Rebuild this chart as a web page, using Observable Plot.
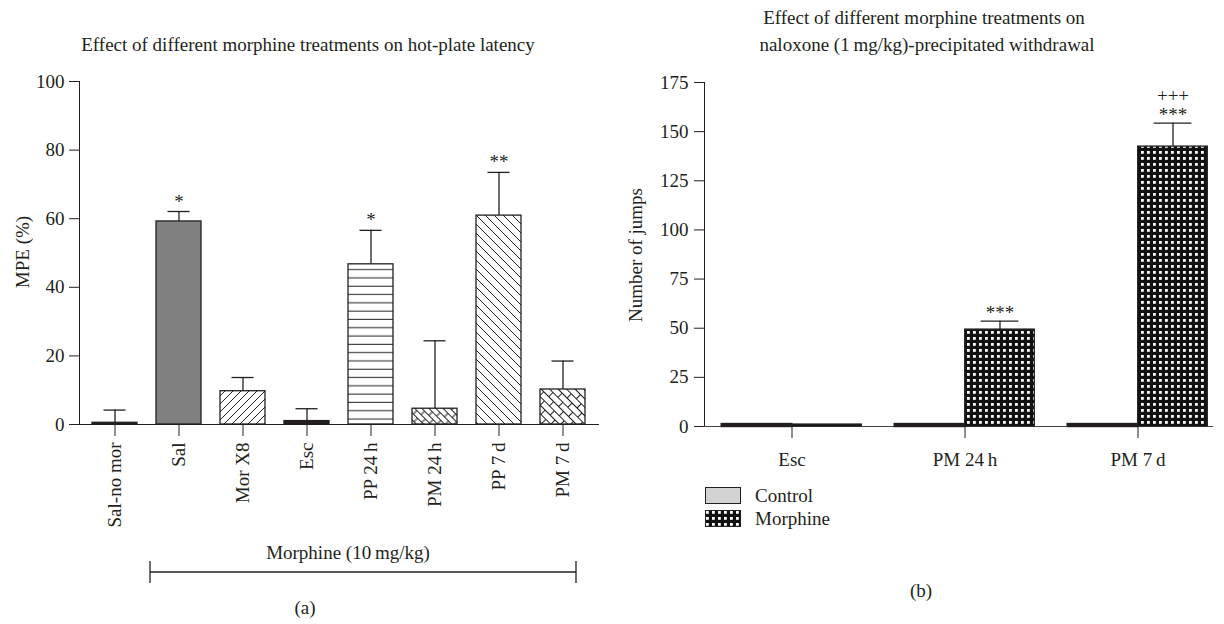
<!DOCTYPE html>
<html><head><meta charset="utf-8">
<script src="https://cdn.jsdelivr.net/npm/d3@7"></script>
<script src="https://cdn.jsdelivr.net/npm/@observablehq/plot@0.6"></script>
<style>
body{margin:0;background:#fff;}
#root{position:relative;width:1224px;height:624px;font-family:"Liberation Serif",serif;color:#231f20;overflow:hidden;background:#fff}
.t{position:absolute;white-space:nowrap;font-size:19px;transform:translate(-50%,-50%);line-height:1}
.l{position:absolute;white-space:nowrap;font-size:19px;transform:translate(0,-50%);line-height:1}
.r{position:absolute;white-space:nowrap;font-size:19px;transform:translate(-50%,-50%) rotate(-90deg);line-height:1}
.p{position:absolute;top:0}
</style></head><body>
<svg width="0" height="0" style="position:absolute">
<defs>
<pattern id="pDiagR" patternUnits="userSpaceOnUse" width="8" height="8"><rect width="8" height="8" fill="#fff"/><path d="M-2,2 L2,-2 M0,8 L8,0 M6,10 L10,6" stroke="#231f20" stroke-width="1"/></pattern>
<pattern id="pDiagL" patternUnits="userSpaceOnUse" width="9" height="9"><rect width="9" height="9" fill="#fff"/><path d="M-2,7 L2,11 M0,0 L9,9 M7,-2 L11,2" stroke="#231f20" stroke-width="1"/></pattern>
<pattern id="pHoriz" patternUnits="userSpaceOnUse" width="8" height="8.3"><rect width="8" height="8.3" fill="#fff"/><path d="M0,4 H8" stroke="#231f20" stroke-width="1"/></pattern>
<pattern id="pBrickS" patternUnits="userSpaceOnUse" width="12" height="10" patternTransform="rotate(45)"><rect width="12" height="10" fill="#fff"/><path d="M0,0.5 H12 M0,5.5 H12 M3,0.5 V5.5 M9,5.5 V10.5" stroke="#231f20" stroke-width="1"/></pattern>
<pattern id="pBrickL" patternUnits="userSpaceOnUse" width="14" height="12" patternTransform="rotate(45)"><rect width="14" height="12" fill="#fff"/><path d="M0,0.5 H14 M0,6.5 H14 M3.5,0.5 V6.5 M10.5,6.5 V12.5" stroke="#231f20" stroke-width="1"/></pattern>
<pattern id="pCheck" patternUnits="userSpaceOnUse" width="6" height="6"><rect width="6" height="6" fill="#111"/><rect x="1" y="1" width="2.8" height="2.8" fill="#fff"/></pattern>
</defs></svg>
<div id="root">
  <div class="t" style="left:308px;top:44px">Effect of different morphine treatments on hot-plate latency</div>
  <div class="r" style="left:22px;top:252px">MPE (%)</div>
  <div class="t" style="left:348px;top:552px">Morphine (10&#8201;mg/kg)</div>
  <div class="t" style="left:305px;top:607px">(a)</div>
  <div class="t" style="left:924px;top:17px">Effect of different morphine treatments on</div>
  <div class="t" style="left:927px;top:44px">naloxone (1&#8201;mg/kg)-precipitated withdrawal</div>
  <div class="r" style="left:635px;top:255px">Number of jumps</div>
  <div style="position:absolute;left:705px;top:487px;width:36px;height:17px"><svg width="36" height="17"><rect x="0.5" y="0.5" width="35" height="16" fill="#d3d3d3" stroke="#231f20"/></svg></div>
  <div class="l" style="left:755px;top:495px">Control</div>
  <div style="position:absolute;left:705px;top:510px;width:36px;height:17px"><svg width="36" height="17"><rect x="0.5" y="0.5" width="35" height="16" fill="url(#pCheck)" stroke="#231f20"/></svg></div>
  <div class="l" style="left:755px;top:518px">Morphine</div>
  <div class="t" style="left:921px;top:590px">(b)</div>
</div>
<script>
// ---- Panel (a): hot-plate latency ----
const treatments = ["Sal-no mor", "Sal", "Mor X8", "Esc", "PP 24\u2009h", "PM 24\u2009h", "PP 7\u2009d", "PM 7\u2009d"];
const mpeMean = [0.5, 59.2, 9.7, 1.0, 46.7, 4.6, 60.9, 10.2];
const mpeSem = [3.7, 2.9, 4.0, 3.6, 9.9, 19.8, 12.6, 8.3];
const mpeStars = ["", "*", "", "", "*", "", "**", ""];
const mpeTicks = [0, 20, 40, 60, 80, 100];

// ---- Panel (b): naloxone-precipitated withdrawal ----
const groups = ["Esc", "PM 24\u2009h", "PM 7\u2009d"];
const controlJumps = [1, 1, 1];
const morphineJumps = [1, 49.3, 142.4];
const morphineSem = [0, 4.3, 11.9];
const jumpStars = ["", "***", "***"];
const jumpPlus = ["", "", "+++"];
const jumpTicks = [0, 25, 50, 75, 100, 125, 150, 175];

const ink = "#231f20";
const fillsA = ["#231f20", "#808080", "url(#pDiagR)", "#231f20", "url(#pHoriz)", "url(#pBrickS)", "url(#pDiagL)", "url(#pBrickL)"];

const dataA = treatments.map((t, i) => ({t, v: mpeMean[i], e: mpeSem[i], s: mpeStars[i]}));
const styleCommon = {fontFamily: "'Liberation Serif', serif", fontSize: "19px", color: ink, background: "transparent", overflow: "visible"};

const plotA = Plot.plot({
  width: 612, height: 624,
  marginLeft: 79, marginRight: 14, marginTop: 81, marginBottom: 200,
  style: styleCommon,
  x: {domain: treatments, paddingInner: 0.29, paddingOuter: 0.145, tickRotate: -90, tickSize: 12, tickPadding: 6, label: null, line: true},
  y: {domain: [0, 100], ticks: mpeTicks, tickSize: 10, tickPadding: 5, label: null, line: true},
  color: {domain: treatments, range: fillsA},
  marks: [
    Plot.ruleX(dataA, {x: "t", y1: "v", y2: d => d.v + d.e, stroke: ink, strokeWidth: 1.3}),
    Plot.tickY(dataA, {x: "t", y: d => d.v + d.e, inset: 11.5, stroke: ink, strokeWidth: 1.3}),
    Plot.barY(dataA, {x: "t", y: "v", fill: "t", stroke: ink, strokeWidth: 1.3}),
    Plot.text(dataA, {x: "t", y: d => d.v + d.e, text: "s", dy: -10, fontSize: 19, fill: ink})
  ]
});
const wrapA = document.createElement("div");
wrapA.className = "p"; wrapA.style.left = "0px";
wrapA.appendChild(plotA);
document.getElementById("root").appendChild(wrapA);

// bracket under the morphine-treated groups, from the x scale
{
  const sx = plotA.scale("x");
  const x0 = sx.apply("Sal") - 6;
  const x1 = sx.apply("PM 7\u2009d") + sx.bandwidth - 9;
  const g = d3.select(plotA).append("g").attr("stroke", ink).attr("stroke-width", 1.3);
  const yb = 572;
  g.append("line").attr("x1", x0).attr("x2", x1).attr("y1", yb).attr("y2", yb);
  g.append("line").attr("x1", x0).attr("x2", x0).attr("y1", yb - 11).attr("y2", yb + 11);
  g.append("line").attr("x1", x1).attr("x2", x1).attr("y1", yb - 11).attr("y2", yb + 11);
}

// ---- Panel (b) ----
const dataB = groups.map((g, i) => ({g, c: controlJumps[i], m: morphineJumps[i], e: morphineSem[i], s: jumpStars[i], p: jumpPlus[i]}));
const dataBerr = dataB.filter(d => d.e > 0);
const plotB = Plot.plot({
  width: 612, height: 624,
  marginLeft: 92, marginRight: 0, marginTop: 82, marginBottom: 198,
  style: styleCommon,
  x: {domain: groups, padding: 0, tickSize: 12, tickPadding: 14, label: null, line: false},
  y: {domain: [0, 175], ticks: jumpTicks, tickSize: 10, tickPadding: 6, label: null, line: true},
  color: {domain: ["Control", "Morphine"], range: ["#d3d3d3", "url(#pCheck)"]},
  marks: [
    Plot.ruleY([0], {stroke: "#444", strokeWidth: 1.2, insetRight: 11}),
    Plot.ruleX(dataBerr, {x: "g", y1: "m", y2: d => d.m + d.e, dx: 35, stroke: ink, strokeWidth: 1.3}),
    Plot.tickY(dataBerr, {x: "g", y: d => d.m + d.e, dx: 35, inset: 67.6, stroke: ink, strokeWidth: 1.3}),
    Plot.barY(dataB, {x: "g", y: "c", fill: () => "Control", insetLeft: 16.7, insetRight: 86.7, stroke: ink, strokeWidth: 2.4}),
    Plot.barY(dataB, {x: "g", y: "m", fill: () => "Morphine", insetLeft: 86.7, insetRight: 16.7, stroke: ink, strokeWidth: 1.3}),
    Plot.text(dataB, {x: "g", y: d => d.m + d.e, text: "s", dx: 35, dy: -8, fontSize: 19, fill: ink}),
    Plot.text(dataB, {x: "g", y: d => d.m + d.e, text: "p", dx: 35, dy: -27, fontSize: 19, fill: ink})
  ]
});
const wrapB = document.createElement("div");
wrapB.className = "p"; wrapB.style.left = "612px";
wrapB.appendChild(plotB);
document.getElementById("root").appendChild(wrapB);
</script>
</body></html>
